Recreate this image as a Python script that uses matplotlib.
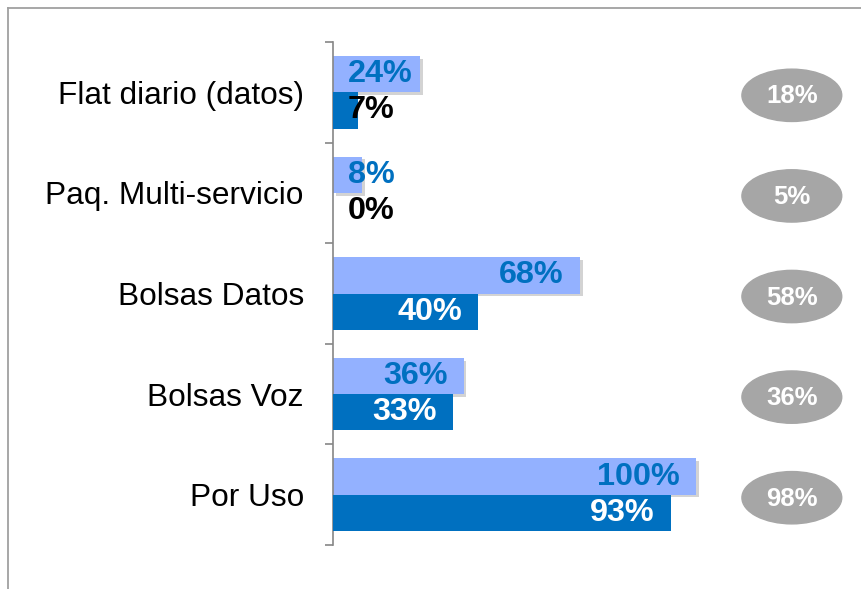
import matplotlib.pyplot as plt
import matplotlib.patheffects as pe
from matplotlib.patches import Ellipse
from matplotlib.lines import Line2D

plt.rcParams['font.family'] = ['Liberation Sans', 'DejaVu Sans']

# data
categories = ['Flat diario (datos)', 'Paq. Multi-servicio', 'Bolsas Datos', 'Bolsas Voz', 'Por Uso']
serie_clara = [24, 8, 68, 36, 100]
serie_oscura = [7, 0, 40, 33, 93]
circulos = [18, 5, 58, 36, 98]

LIGHT = '#93B1FF'
DARK = '#0070C0'
GREY = '#A6A6A6'

fig = plt.figure(figsize=(8.62, 5.89), dpi=100)
ax = fig.add_axes([333 / 862, 44 / 589, 529 / 862, 503 / 589])

n = len(categories)
y = list(range(n))
h = 0.36

# light bars with a soft drop shadow, then dark bars on top
ax.barh([v - h / 2 for v in y], serie_clara, height=h, color=LIGHT,
        path_effects=[pe.SimplePatchShadow(offset=(2, -2), alpha=0.25, shadow_rgbFace='#505050'),
                      pe.Normal()], zorder=2)
ax.barh([v + h / 2 for v in y], serie_oscura, height=h, color=DARK, zorder=3)

# data labels: inside end when they fit, otherwise near the base
fs = 23.3
for i in range(n):
    a = serie_clara[i]
    if a > 25:
        ax.text(a - 4.4, i - h / 2, f'{a}%', ha='right', va='center', color=DARK,
                fontsize=fs, fontweight='bold', zorder=5)
    else:
        ax.text(4.1, i - h / 2, f'{a}%', ha='left', va='center', color=DARK,
                fontsize=fs, fontweight='bold', zorder=5)
    b = serie_oscura[i]
    if b > 25:
        ax.text(b - 4.4, i + h / 2, f'{b}%', ha='right', va='center', color='white',
                fontsize=fs, fontweight='bold', zorder=5)
    else:
        ax.text(4.1, i + h / 2, f'{b}%', ha='left', va='center', color='black',
                fontsize=fs, fontweight='bold', zorder=5)

# grey ovals on the right
for i in range(n):
    ax.add_patch(Ellipse((126.4, i + 0.03), 27.5, 0.52, color=GREY, zorder=4))
    ax.text(126.4, i + 0.04, f'{circulos[i]}%', ha='center', va='center', color='white',
            fontsize=18.5, fontweight='bold', zorder=5)

ax.set_xlim(0, 529 / 3.63)
ax.set_ylim(n - 0.5, -0.5)

ax.set_yticks([k - 0.5 for k in range(n + 1)])
ax.set_yticklabels([])
ax.set_yticks(y, minor=True)
ax.set_yticklabels(categories, minor=True, fontsize=22.8)
ax.tick_params(axis='y', which='major', length=6, width=1.2, color='#868686', direction='out')
ax.tick_params(axis='y', which='minor', length=0, pad=21)
ax.set_xticks([])

for s in ['top', 'right', 'bottom']:
    ax.spines[s].set_visible(False)
ax.spines['left'].set_color('#868686')
ax.spines['left'].set_linewidth(1.2)

# outer frame (top and left only, as in the original)
fig.add_artist(Line2D([8 / 862, 1], [1 - 8 / 589, 1 - 8 / 589], color='#A0A0A0', lw=1.3))
fig.add_artist(Line2D([8 / 862, 8 / 862], [0, 1 - 8 / 589], color='#A0A0A0', lw=1.3))

fig.savefig('out.png', dpi=100)
